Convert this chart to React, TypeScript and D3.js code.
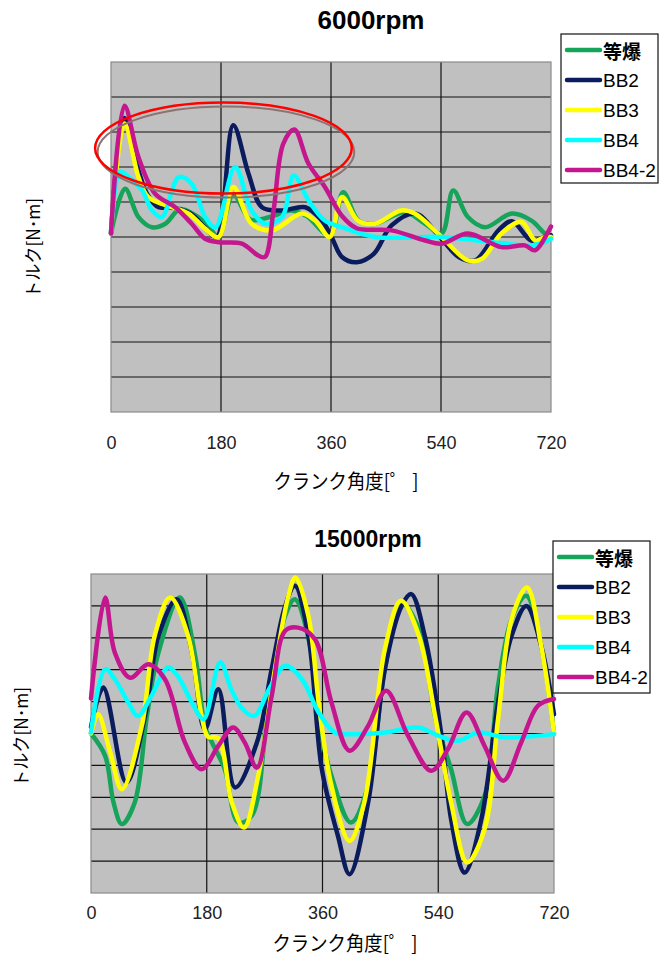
import React, { useRef, useEffect } from "react";
import * as d3 from "d3";

type Pt = [number, number];

const angleTicks = [0, 180, 360, 540, 720];
const seriesNames = ["等爆", "BB2", "BB3", "BB4", "BB4-2"];
const seriesColors = ["#16A35A", "#0B1C5E", "#FFFF00", "#00FFFF", "#C4178F"];

// 6000rpm  [crank angle, torque (grid rows)]
const eq6000: Pt[] = [
  [0, 0.1], [23, 1.38], [45, 0.57], [67, 0.28], [89, 0.38], [113, 0.8], [140, 0.6], [160, 0.3],
  [176, 0], [200, 1.2], [228, 0.5], [260, 0.57], [295, 0.76], [320, 0.6], [358, 0.05], [380, 1.28],
  [405, 0.47], [432, 0.38], [481, 0.71], [514, 0.38], [541, 0.1], [560, 1.33], [584, 0.57],
  [612, 0.28], [656, 0.67], [688, 0.47], [710, 0.1], [720, 0.0],
];
const bb2_6000: Pt[] = [
  [0, 0.1], [22, 3.4], [45, 1.9], [60, 1.2], [78, 0.85], [97, 0.85], [130, 0.67], [155, 0.25],
  [173, 0], [200, 3.19], [225, 1.81], [247, 0.85], [280, 0.76], [318, 0.85], [345, 0.47], [361, 0],
  [378, -0.57], [402, -0.72], [430, -0.48], [459, 0.33], [498, 0.67], [538, 0], [569, -0.57],
  [596, -0.67], [634, 0.19], [656, 0.45], [688, -0.1], [710, 0], [720, 0.05],
];
const bb3_6000: Pt[] = [
  [0, 0.1], [22, 3.24], [45, 1.71], [61, 1.14], [100, 0.85], [127, 0.67], [154, 0.24], [176, 0],
  [200, 1.43], [230, 0.38], [263, 0.19], [312, 0.67], [334, 0.47], [358, 0], [378, 1.14],
  [404, 0.47], [432, 0.38], [475, 0.76], [497, 0.67], [541, 0], [584, -0.67], [607, -0.62],
  [639, 0.1], [672, 0.43], [694, -0.1], [710, 0], [720, 0],
];
const bb4_6000: Pt[] = [
  [0, 0.1], [15, 1.86], [29, 1.71], [51, 1.33], [67, 0.76], [83, 0.57], [111, 1.71], [132, 1.52],
  [154, 0.57], [171, 0.28], [203, 2.0], [230, 0.76], [252, 0.38], [280, 0.57], [299, 1.76],
  [323, 1.05], [350, 0.47], [378, 0.28], [432, 0], [541, 0], [622, -0.14], [688, -0.24],
  [715, -0.1], [720, -0.05],
];
const bb42_6000: Pt[] = [
  [0, 0.1], [22, 3.75], [45, 2.28], [72, 1.24], [105, 0.85], [132, 0.38], [154, -0.05],
  [176, -0.15], [214, -0.19], [241, -0.53], [252, -0.57], [266, 0.76], [282, 2.67], [300, 3.07],
  [323, 2.1], [350, 1.43], [378, 0.6], [402, 0.25], [459, 0.19], [514, -0.1], [541, -0.19],
  [584, 0.1], [639, -0.29], [677, -0.24], [694, -0.38], [715, 0.14], [720, 0.3],
];

// 15000rpm
const eq15000: Pt[] = [
  [0, 0.0], [22, -0.7], [35, -2.16], [48, -2.84], [68, -2.16], [87, 0.55], [105, 2.54], [138, 4.26],
  [162, 2.44], [177, 0.24], [188, -0.28], [208, -1.12], [229, -2.79], [250, -2.58], [276, 0.97],
  [302, 3.69], [317, 4.21], [343, 2.54], [357, 0.13], [374, -1.33], [404, -2.79], [431, -1.64],
  [457, 2.02], [483, 4.08], [510, 3.27], [536, 0.45], [560, -1.12], [585, -2.84], [612, -1.96],
  [633, 1.5], [654, 3.58], [677, 4.32], [700, 2.75], [720, 0.0],
];
const bb2_15000: Pt[] = [
  [0, 0.2], [19, 1.44], [55, -1.54], [84, 0.55], [105, 3.06], [133, 4.21], [157, 2.54], [177, 0.13],
  [198, 1.39], [224, -1.69], [258, -0.28], [281, 2.02], [302, 4.0], [317, 4.63], [338, 3.06],
  [359, -1.12], [384, -3.21], [402, -4.41], [431, -2.16], [457, 2.02], [483, 4.0], [498, 4.37],
  [519, 3.06], [545, -0.07], [560, -2.69], [581, -4.36], [607, -2.69], [633, 0.97], [654, 3.06],
  [677, 4.0], [700, 2.75], [720, 0.6],
];
const bb3_15000: Pt[] = [
  [0, 0.0], [11, 0.6], [30, -0.6], [48, -1.75], [79, 0.24], [99, 3.06], [123, 4.26], [151, 3.06],
  [172, 0.55], [182, -0.1], [198, -0.15], [219, -2.16], [238, -2.95], [260, -1.33], [286, 2.02],
  [307, 4.31], [318, 4.89], [338, 3.69], [355, 0.8], [374, -1.64], [402, -3.37], [425, -2.16],
  [457, 2.64], [482, 4.16], [510, 3.06], [536, 0.45], [560, -2.16], [585, -4.04], [612, -3.0],
  [633, 0.45], [654, 3.58], [678, 4.58], [700, 2.75], [720, 0.0],
];
const bb4_15000: Pt[] = [
  [0, 0.03], [22, 2.02], [37, 1.7], [58, 0.97], [73, 0.55], [94, 1.18], [120, 2.07], [135, 1.8],
  [157, 0.97], [175, 0.45], [201, 2.23], [218, 1.39], [236, 0.76], [254, 0.55], [277, 1.39],
  [302, 2.12], [328, 1.7], [353, 0.7], [379, 0.03], [405, -0.02], [457, 0.03], [509, 0.19],
  [540, -0.07], [571, -0.23], [602, 0.03], [643, -0.12], [720, -0.02],
];
const bb42_15000: Pt[] = [
  [0, 1.1], [22, 4.26], [37, 2.54], [61, 1.75], [89, 2.17], [115, 1.7], [146, -0.28], [172, -1.12],
  [198, -0.39], [221, 0.19], [239, -0.28], [258, -1.07], [281, 1.18], [302, 3.22], [322, 3.32],
  [348, 2.96], [374, 0.97], [402, -0.54], [431, 0.24], [459, 1.34], [493, -0.07], [529, -1.17],
  [555, -0.49], [584, 0.66], [612, -0.39], [641, -1.48], [669, -0.28], [695, 0.87], [720, 1.08],
];

// red ring around the peaks of the 6000rpm chart, in data units
const markCenter: Pt = [184, 2.54];
const markRadius: Pt = [210, 1.3];

const latin = "'Liberation Sans', Arial, sans-serif";
const jp = "'Noto Sans CJK JP', sans-serif";

const App = () => {
  const svgRef = useRef<SVGSVGElement>(null);

  function drawChart(svg: any, cfg: any) {
    const { left, top, right, bottom } = cfg.box;
    const x = d3.scaleLinear().domain([0, 720]).range([left, right]);
    const y = d3.scaleLinear().domain([-5, 5]).range([bottom, top]);
    const g = svg.append("g");

    g.append("rect")
      .attr("x", left).attr("y", top)
      .attr("width", right - left).attr("height", bottom - top)
      .attr("fill", "#c0c0c0");

    g.append("g").selectAll("line")
      .data(d3.range(-4, 5))
      .join("line")
      .attr("x1", left).attr("x2", right)
      .attr("y1", (d: number) => y(d)).attr("y2", (d: number) => y(d))
      .attr("stroke", "#111").attr("stroke-width", 1.2);

    g.append("g").selectAll("line")
      .data(angleTicks.slice(1, -1))
      .join("line")
      .attr("x1", (d: number) => x(d)).attr("x2", (d: number) => x(d))
      .attr("y1", top).attr("y2", bottom)
      .attr("stroke", "#111").attr("stroke-width", 1.2);

    g.append("rect")
      .attr("x", left).attr("y", top)
      .attr("width", right - left).attr("height", bottom - top)
      .attr("fill", "none").attr("stroke", "#8a8a8a").attr("stroke-width", 1.2);

    const line = d3.line<Pt>()
      .x(d => x(d[0]))
      .y(d => y(d[1]))
      .curve(d3.curveCatmullRom.alpha(0.5));

    cfg.series.forEach((s: Pt[], i: number) => {
      g.append("path")
        .attr("d", line(s))
        .attr("fill", "none")
        .attr("stroke", seriesColors[i])
        .attr("stroke-width", 4.5)
        .attr("stroke-linejoin", "round")
        .attr("stroke-linecap", "round");
    });

    if (cfg.mark) {
      const cx = x(markCenter[0]);
      const cy = y(markCenter[1]);
      const rx = x(markRadius[0]) - x(0);
      const ry = y(0) - y(markRadius[1]);
      g.append("ellipse")
        .attr("cx", cx + 2.5).attr("cy", cy + 4).attr("rx", rx).attr("ry", ry)
        .attr("fill", "none").attr("stroke", "#8e7272").attr("stroke-width", 2);
      g.append("ellipse")
        .attr("cx", cx).attr("cy", cy).attr("rx", rx).attr("ry", ry)
        .attr("fill", "none").attr("stroke", "#ff0000").attr("stroke-width", 2.5);
    }

    // angle tick labels
    const xAxis = d3.axisBottom(x).tickValues(angleTicks).tickSize(0).tickPadding(cfg.tickPad);
    const ax = g.append("g").attr("transform", "translate(0," + bottom + ")").call(xAxis);
    ax.select(".domain").remove();
    ax.selectAll("text")
      .attr("font-family", latin)
      .attr("font-size", 18)
      .attr("fill", "#222");

    // titles
    g.append("text")
      .attr("x", cfg.titleX).attr("y", cfg.titleY)
      .attr("text-anchor", "middle")
      .attr("font-family", latin).attr("font-weight", "bold")
      .attr("font-size", cfg.titleSize)
      .text(cfg.title);

    g.append("text")
      .attr("x", cfg.xLabelX).attr("y", cfg.xLabelY)
      .attr("text-anchor", "middle")
      .attr("font-family", jp).attr("font-size", 20)
      .attr("textLength", 145).attr("lengthAdjust", "spacingAndGlyphs")
      .text("クランク角度[゜ ]");

    g.append("text")
      .attr("transform", "translate(" + cfg.yLabelX + "," + cfg.yLabelY + ") rotate(-90)")
      .attr("text-anchor", "middle")
      .attr("dominant-baseline", "central")
      .attr("font-family", jp).attr("font-size", 18)
      .attr("textLength", 100).attr("lengthAdjust", "spacingAndGlyphs")
      .text("トルク[N･m]");

    // legend
    const lg = cfg.legend;
    g.append("rect")
      .attr("x", lg.x).attr("y", lg.y).attr("width", lg.w).attr("height", lg.h)
      .attr("fill", "#fff").attr("stroke", "#111").attr("stroke-width", 1.2);
    const items = g.append("g").selectAll("g")
      .data(seriesNames)
      .join("g")
      .attr("transform", (d: string, i: number) => "translate(" + (lg.x + 6) + "," + (lg.y + 16 + i * 30) + ")");
    items.append("line")
      .attr("x1", 0).attr("x2", 33).attr("y1", 0).attr("y2", 0)
      .attr("stroke", (d: string, i: number) => seriesColors[i])
      .attr("stroke-width", 4.5)
      .attr("stroke-linecap", "round");
    items.append("text")
      .attr("x", 36).attr("y", 0)
      .attr("dominant-baseline", "central")
      .attr("font-family", (d: string, i: number) => (i === 0 ? jp : latin))
      .attr("font-weight", (d: string, i: number) => (i === 0 ? "bold" : "normal"))
      .attr("font-size", 19)
      .text((d: string) => d);
  }

  useEffect(() => {
    const svg = d3.select(svgRef.current);
    svg.selectAll("*").remove();

    drawChart(svg, {
      box: { left: 111, top: 62, right: 551, bottom: 412 },
      series: [eq6000, bb2_6000, bb3_6000, bb4_6000, bb42_6000],
      title: "6000rpm", titleX: 371, titleY: 29, titleSize: 26,
      tickPad: 24,
      xLabelX: 346, xLabelY: 489,
      yLabelX: 32, yLabelY: 248,
      legend: { x: 561, y: 34, w: 97, h: 149 },
      mark: true,
    });

    drawChart(svg, {
      box: { left: 91, top: 574, right: 554, bottom: 893 },
      series: [eq15000, bb2_15000, bb3_15000, bb4_15000, bb42_15000],
      title: "15000rpm", titleX: 368, titleY: 547, titleSize: 23,
      tickPad: 13,
      xLabelX: 345, xLabelY: 951,
      yLabelX: 20, yLabelY: 737,
      legend: { x: 553, y: 541, w: 97, h: 152 },
      mark: false,
    });
  }, []);

  return (
    <svg
      ref={svgRef}
      width={671}
      height={958}
      style={{ position: "absolute", left: 0, top: 0, background: "#fff" }}
    ></svg>
  );
};

export default App;
